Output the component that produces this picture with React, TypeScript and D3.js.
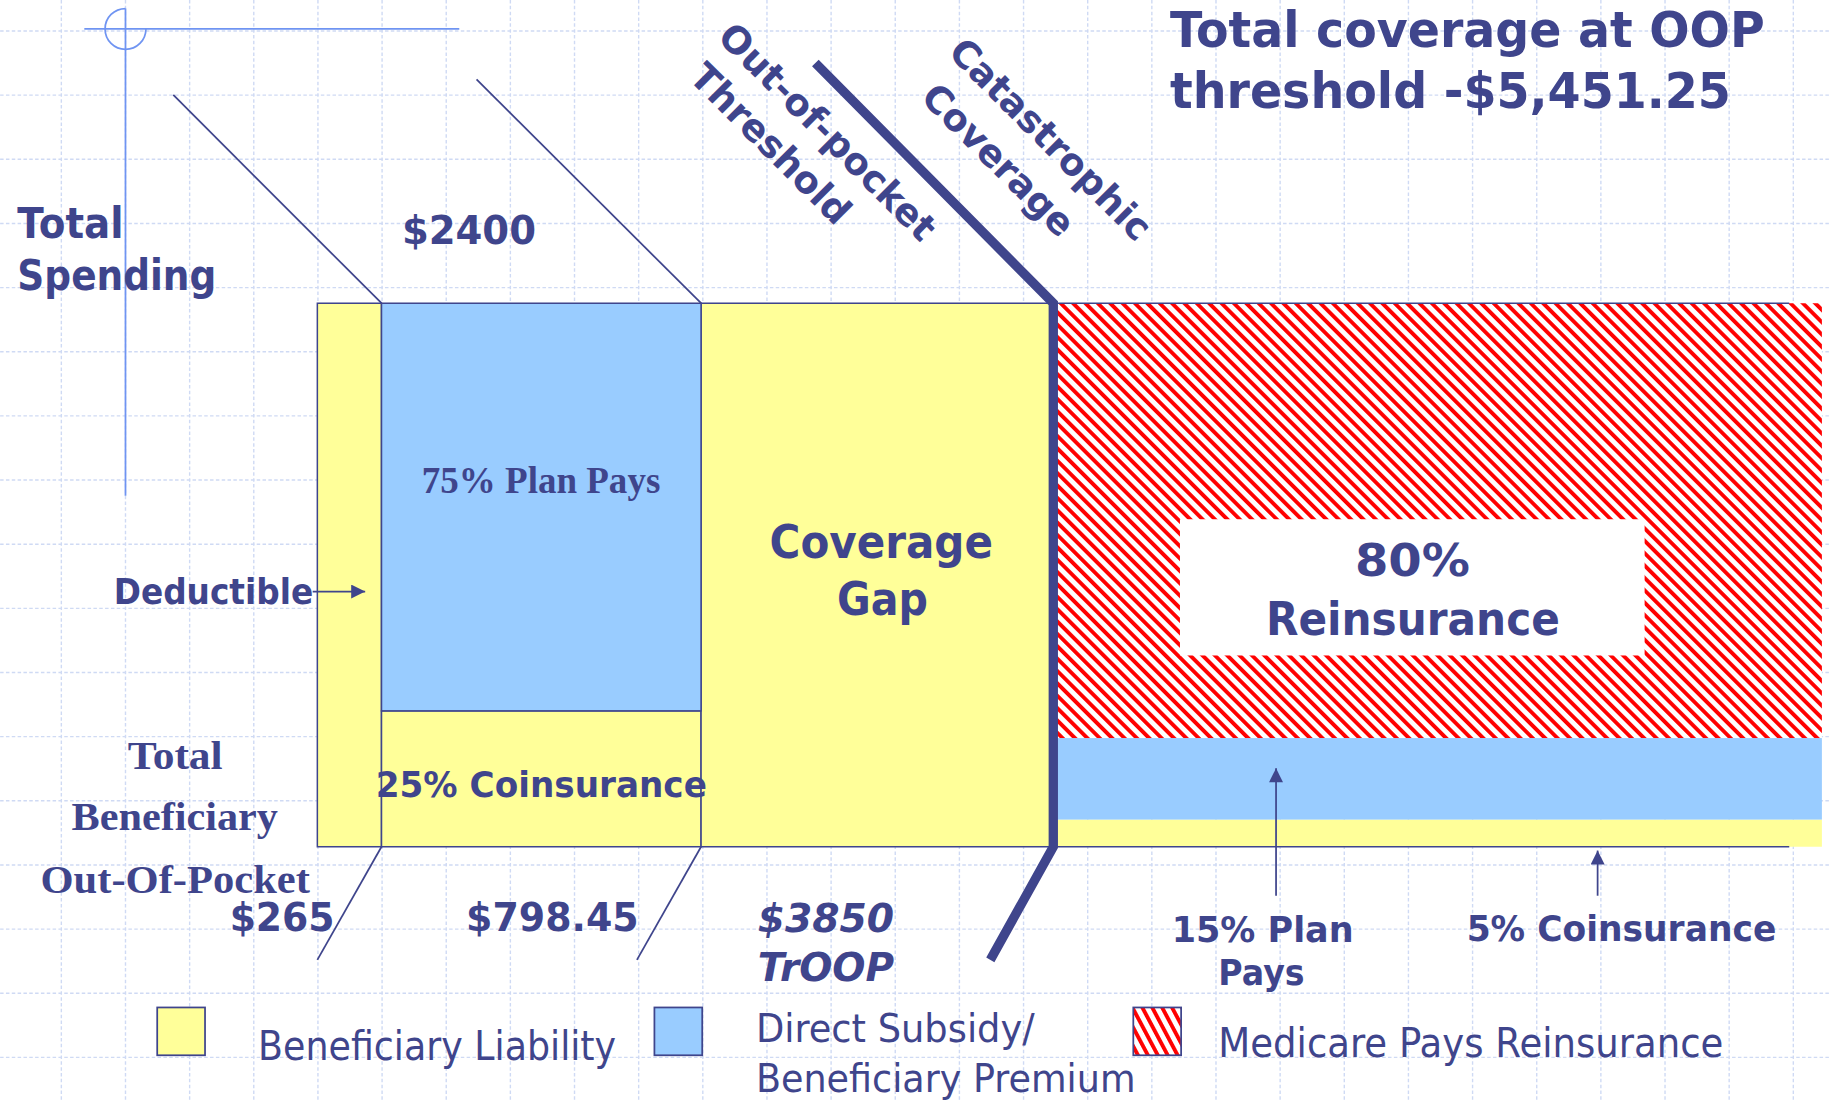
import React from "react";
import * as d3 from "d3";

// Medicare Part D standard benefit (2007), spending bands and who pays
const phases = ["Deductible", "Initial Coverage", "Coverage Gap", "Catastrophic"];
const spendingBreaks = [0, 265, 2400, 5451.25, 9000];
const payers = ["beneficiary", "plan", "reinsurance"];
const beneficiaryShare = [1, 0.25, 1, 0.05];
const planShare = [0, 0.75, 0, 0.15];
const reinsuranceShare = [0, 0, 0, 0.8];
const oopLabels = ["$265", "$798.45"];
const legendLabels = [["Beneficiary Liability"], ["Direct Subsidy/", "Beneficiary Premium"], ["Medicare Pays Reinsurance"]];

const NAVY = "#3f458c";
const YELLOW = "#ffff99";
const BLUE = "#99ccff";
const GRID = "#cfdaf4";
const SANS = "'DejaVu Sans', Verdana, sans-serif";
const SERIF = "'Liberation Serif', 'Times New Roman', serif";

const fills = { beneficiary: YELLOW, plan: BLUE, reinsurance: "url(#hatch)" };
const legendFills = [YELLOW, BLUE, "url(#hatchLegend)"];

const T = ({ x, y, size, len, anchor = "start", weight = "bold", family = SANS, italic = false, transform, children }) => (
  <text
    x={x}
    y={y}
    fontSize={size}
    fontWeight={weight}
    fontFamily={family}
    fontStyle={italic ? "italic" : "normal"}
    fill={NAVY}
    textAnchor={anchor}
    textLength={len}
    lengthAdjust={len ? "spacingAndGlyphs" : undefined}
    transform={transform}
  >
    {children}
  </text>
);

const App = () => {
  const W = 1568,
    H = 944;

  const x = d3.scaleLinear().domain(spendingBreaks).range([272, 327, 601, 903, 1562]);
  const y = d3.scaleLinear().domain([0, 1]).range([726, 260]);

  const table = phases.map((phase, i) => ({
    phase,
    beneficiary: beneficiaryShare[i],
    plan: planShare[i],
    reinsurance: reinsuranceShare[i],
  }));
  const series = d3.stack().keys(payers)(table);

  const xCat = x(spendingBreaks[3]);
  const top = y(1),
    bottom = y(0);
  const frameRight = 1534;

  const line = d3.line();
  const thick = line([
    [xCat - 204, top - 206],
    [xCat, top],
    [xCat, bottom],
    [xCat - 54, bottom + 97],
  ]);

  const crossArc = d3.path();
  crossArc.arc(107.5, 24.8, 17.5, -Math.PI / 2, 0, true);

  const vGrid = d3.range(52.5, W, 55);
  const hGrid = d3.range(26.6, H, 55);

  return (
    <div style={{ position: "absolute", left: 0, top: 0, width: 1829, height: 1101, background: "#fff" }}>
      <svg width={1829} height={1101} viewBox={`0 0 ${W} ${H}`} style={{ display: "block" }}>
        <defs>
          <pattern id="hatch" patternUnits="userSpaceOnUse" width="7.5" height="7.5" patternTransform="rotate(-45)">
            <rect width="7.5" height="7.5" fill="#fff" />
            <rect width="3.3" height="7.5" fill="#ff0000" />
          </pattern>
          <pattern id="hatchLegend" patternUnits="userSpaceOnUse" width="7.5" height="7.5" patternTransform="rotate(-28)">
            <rect width="7.5" height="7.5" fill="#fff" />
            <rect width="3.3" height="7.5" fill="#ff0000" />
          </pattern>
          <marker id="arrow" viewBox="0 0 10 10" refX="10" refY="5" markerWidth="13" markerHeight="12" markerUnits="userSpaceOnUse" orient="auto">
            <path d="M0,0 L10,5 L0,10 z" fill={NAVY} />
          </marker>
        </defs>

        <rect width={W} height={H} fill="#fff" />
        {/* dashed background grid */}
        <g stroke={GRID} strokeWidth={1.2} strokeDasharray="3 2">
          {vGrid.map((gx) => (
            <line key={"v" + gx} x1={gx} x2={gx} y1={0} y2={H} />
          ))}
          {hGrid.map((gy) => (
            <line key={"h" + gy} x1={0} x2={W} y1={gy} y2={gy} />
          ))}
        </g>

        {/* crosshair decoration */}
        <g stroke="#6f94f2" strokeWidth={1.5} fill="none">
          <line x1={72.2} x2={393.7} y1={24.8} y2={24.8} />
          <line x1={107.5} x2={107.5} y1={7.3} y2={425} />
          <path d={crossArc.toString()} />
        </g>

        {/* benefit blocks */}
        {series.map((s) =>
          s.map((d, i) => {
            if (d[1] - d[0] <= 0) return null;
            const x0 = x(spendingBreaks[i]),
              x1 = x(spendingBreaks[i + 1]);
            const cat = i === 3;
            return (
              <rect
                key={s.key + i}
                x={x0}
                y={y(d[1])}
                width={x1 - x0}
                height={y(d[0]) - y(d[1])}
                fill={fills[s.key]}
                stroke={cat ? "none" : NAVY}
                strokeWidth={1.3}
              />
            );
          })
        )}
        <line x1={xCat} x2={frameRight} y1={top} y2={top} stroke={NAVY} strokeWidth={1.3} />
        <line x1={xCat} x2={frameRight} y1={bottom} y2={bottom} stroke={NAVY} strokeWidth={1.3} />

        {/* guide lines */}
        <g stroke={NAVY} strokeWidth={1.5}>
          <line x1={x(265) - 178.5} y1={top - 178.6} x2={x(265)} y2={top} />
          <line x1={x(2400) - 192.5} y1={top - 192} x2={x(2400)} y2={top} />
          <line x1={x(265)} y1={bottom} x2={x(265) - 55} y2={bottom + 97} />
          <line x1={x(2400)} y1={bottom} x2={x(2400) - 55} y2={bottom + 97} />
        </g>
        <path d={thick} fill="none" stroke={NAVY} strokeWidth={8} />

        {/* reinsurance label box */}
        <rect x={1011.6} y={445.2} width={398.4} height={116.8} fill="#fff" />
        <T x={1210.9} y={493.5} size={38} len={98.6} anchor="middle">80%</T>
        <T x={1211.3} y={544.4} size={40} len={252} anchor="middle">Reinsurance</T>

        {/* titles */}
        <T x={1003} y={40} size={42} len={510}>Total coverage at OOP</T>
        <T x={1003} y={93} size={42} len={481}>threshold -$5,451.25</T>

        <T x={14.8} y={204} size={36} len={91}>Total</T>
        <T x={14.8} y={248.6} size={36} len={170.6}>Spending</T>
        <T x={344.5} y={209.5} size={34} len={115}>$2400</T>

        <T x={0} y={0} size={32} anchor="middle" transform="translate(701.7,120.8) rotate(45)">Out-of-pocket</T>
        <T x={0} y={0} size={32} anchor="middle" transform="translate(652.9,131) rotate(45)">Threshold</T>
        <T x={0} y={0} size={32} anchor="middle" transform="translate(892.8,127.3) rotate(45)">Catastrophic</T>
        <T x={0} y={0} size={32} anchor="middle" transform="translate(848.2,145) rotate(45)">Coverage</T>

        <T x={463.8} y={423} size={32} len={204.5} anchor="middle" family={SERIF}>75% Plan Pays</T>
        <T x={755.5} y={478.6} size={39} len={191.5} anchor="middle">Coverage</T>
        <T x={756.5} y={527.2} size={39} len={78} anchor="middle">Gap</T>

        <T x={268.4} y={518} size={30} len={171} anchor="end">Deductible</T>
        <line x1={268} y1={507.2} x2={313} y2={507.2} stroke={NAVY} strokeWidth={1.5} markerEnd="url(#arrow)" />

        <T x={464} y={683.5} size={30} len={284} anchor="middle">25% Coinsurance</T>

        <T x={150.1} y={659.5} size={35} len={81.5} anchor="middle" family={SERIF}>Total</T>
        <T x={149.7} y={712} size={35} len={177} anchor="middle" family={SERIF}>Beneficiary</T>
        <T x={150.1} y={765.8} size={34} len={231} anchor="middle" family={SERIF}>Out-Of-Pocket</T>

        <T x={196.8} y={798.5} size={33} len={90}>{oopLabels[0]}</T>
        <T x={399.5} y={798.5} size={33} len={148}>{oopLabels[1]}</T>
        <T x={649.5} y={798.7} size={33} len={117} italic>$3850</T>
        <T x={649.5} y={841.5} size={33} len={117} italic>TrOOP</T>

        <line x1={1094} y1={768} x2={1094} y2={658.7} stroke={NAVY} strokeWidth={1.5} markerEnd="url(#arrow)" />
        <line x1={1369.7} y1={768} x2={1369.7} y2={729.3} stroke={NAVY} strokeWidth={1.5} markerEnd="url(#arrow)" />
        <T x={1082.5} y={807.3} size={31} len={156} anchor="middle">15% Plan</T>
        <T x={1081.5} y={844.4} size={31} len={74} anchor="middle">Pays</T>
        <T x={1257.4} y={806.4} size={31} len={265.5}>5% Coinsurance</T>

        {/* legend */}
        {[134.7, 561, 971.6].map((lx, i) => (
          <rect key={"lb" + i} x={lx} y={863.8} width={41} height={41} fill={legendFills[i]} stroke={NAVY} strokeWidth={1.5} />
        ))}
        <T x={221.2} y={908.7} size={35} len={307} weight="normal">{legendLabels[0][0]}</T>
        <T x={648} y={893} size={34} len={239} weight="normal">{legendLabels[1][0]}</T>
        <T x={648} y={935.9} size={34} len={325.5} weight="normal">{legendLabels[1][1]}</T>
        <T x={1044.5} y={905.9} size={35} len={433} weight="normal">{legendLabels[2][0]}</T>
      </svg>
    </div>
  );
};

export default App;
